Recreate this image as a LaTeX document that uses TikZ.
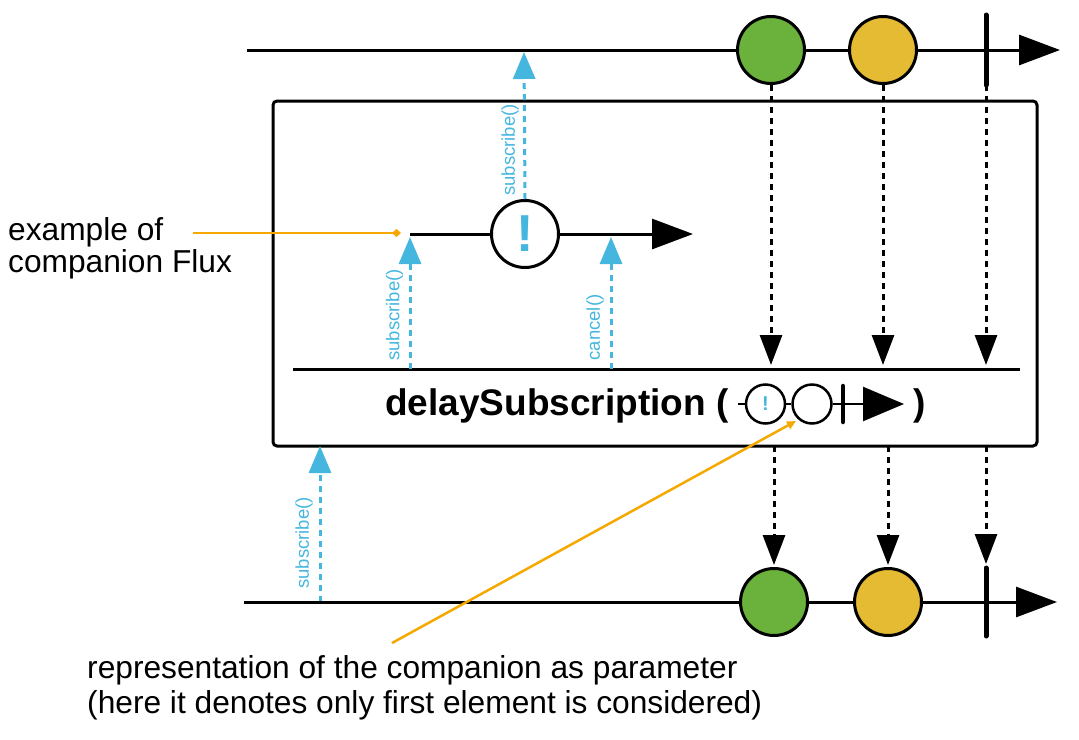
\documentclass[tikz,border=0pt]{standalone}
\usepackage{fontspec}
\setmainfont{Liberation Sans}
\usetikzlibrary{arrows.meta}
\definecolor{rxgreen}{RGB}{106,178,60}
\definecolor{rxyellow}{RGB}{229,187,51}
\definecolor{rxblue}{RGB}{69,183,222}
\definecolor{rxorange}{RGB}{245,168,0}
\tikzset{
  timeline/.style={line width=3pt},
  bigtip/.style={-{Triangle[length=41pt,width=30pt]}},
  marble/.style={circle, draw, line width=3pt, minimum size=67pt, inner sep=0pt},
  minimarble/.style={circle, draw, line width=2.5pt, minimum size=39pt, inner sep=0pt},
  bar/.style={line width=5pt, line cap=round},
  bluecall/.style={draw=rxblue, line width=3pt, dash pattern=on 6pt off 5pt, -{Triangle[length=27pt,width=22pt,fill=rxblue]}},
  calllabel/.style={text=rxblue, rotate=90, inner sep=0pt, font=\fontsize{18.5}{18.5}\selectfont},
  passdown/.style={line width=3pt, dash pattern=on 6pt off 5pt, -{Triangle[length=30pt,width=22pt]}},
  note/.style={anchor=base west, inner sep=0pt, font=\fontsize{31.7}{35}\selectfont},
  pointer/.style={draw=rxorange, line width=2.5pt},
}
\begin{document}
\begin{tikzpicture}[x=1pt,y=-1pt]
\useasboundingbox (0,0) rectangle (1079,739);

% ---------- top source timeline ----------
\coordinate (t0) at (247,50);
\coordinate (t1) at (1060,50);
\draw[timeline, bigtip] (t0) -- (t1);
\node[marble, fill=rxgreen] (tg) at (771,50) {};
\node[marble, fill=rxyellow] (ty) at (883,50) {};
\coordinate (tbTop) at (986,15);
\coordinate (tbBot) at (986,85);
\draw[bar] (tbTop) -- (tbBot);

% ---------- operator box ----------
\node[draw, line width=3pt, rounded corners=4pt, minimum width=764pt, minimum height=345pt, inner sep=0pt] (box) at (655,273.5) {};
\coordinate (opl0) at (293,369);
\coordinate (opl1) at (1020,369);
\draw[timeline] (opl0) -- (opl1);

% ---------- companion flux inside box ----------
\coordinate (c0) at (410,234);
\coordinate (c1) at (693,234);
\node[marble, fill=white] (ex) at (525,234) {\textcolor{rxblue}{\bfseries\fontsize{52}{52}\selectfont !}};
\draw[timeline] (c0) -- (ex.west);
\draw[timeline, bigtip] (ex.east) -- (c1);

% ---------- blue subscription calls ----------
\coordinate (s1tip) at (524,52);
\draw[bluecall] (ex.north) -- (s1tip);
\node[calllabel] (s1lbl) at (510,150) {subscribe()};

\coordinate (s2base) at (410,369);
\coordinate (s2tip) at (410,237);
\draw[bluecall] (s2base) -- (s2tip);
\node[calllabel] (s2lbl) at (394.5,315) {subscribe()};

\coordinate (cbase) at (611,369);
\coordinate (ctip) at (611,237);
\draw[bluecall] (cbase) -- (ctip);
\node[calllabel] (clbl) at (595,327.5) {cancel()};

\coordinate (s3base) at (320,602);
\coordinate (s3tip) at (320,446);
\draw[bluecall] (s3base) -- (s3tip);
\node[calllabel] (s3lbl) at (304,543) {subscribe()};

% ---------- operator label ----------
\node[anchor=base west, inner sep=0pt, font=\bfseries\fontsize{37}{37}\selectfont] (op) at (385,415) {delaySubscription (};
\node[anchor=base west, inner sep=0pt, font=\bfseries\fontsize{37}{37}\selectfont] (opclose) at (913,415) {)};
\coordinate (m0) at (738,404);
\coordinate (mtip) at (904,404);
\node[minimarble, fill=white] (m1) at (765.5,404) {\textcolor{rxblue}{\bfseries\fontsize{20}{20}\selectfont !}};
\node[minimarble, fill=white] (m2) at (812,404) {};
\draw[line width=2.5pt] (m0) -- (m1.west);
\draw[line width=2.5pt] (m1.east) -- (m2.west);
\draw[line width=2.5pt, -{Triangle[length=41pt,width=34pt]}] (m2.east) -- (mtip);
\coordinate (mbTop) at (843,386);
\coordinate (mbBot) at (843,422);
\draw[line width=4.5pt, line cap=round] (mbTop) -- (mbBot);

% ---------- bottom result timeline ----------
\coordinate (b0) at (244,602);
\coordinate (b1) at (1057,602);
\draw[timeline, bigtip] (b0) -- (b1);
\node[marble, fill=rxgreen] (bg) at (774,602) {};
\node[marble, fill=rxyellow] (by) at (888,602) {};
\coordinate (bbTop) at (986,568);
\coordinate (bbBot) at (986,636);
\draw[bar] (bbTop) -- (bbBot);

% ---------- passing arrows ----------
\coordinate (p1) at (771,365);
\coordinate (p2) at (883,365);
\coordinate (p3) at (986,365);
\draw[passdown] (tg.south) -- (p1);
\draw[passdown] (ty.south) -- (p2);
\draw[passdown] (tbBot) -- (p3);

\coordinate (q1) at (774,446);
\coordinate (q2) at (888,446);
\coordinate (q3) at (986,446);
\coordinate (q3tip) at (986,564);
\draw[passdown, shorten >=2pt] (q1) -- (bg.north);
\draw[passdown, shorten >=2pt] (q2) -- (by.north);
\draw[passdown] (q3) -- (q3tip);

% ---------- annotations ----------
\node[note, font=\fontsize{31.7}{32}\selectfont] (ex1) at (8,240) {example of};
\node[note, font=\fontsize{31.7}{32}\selectfont] (ex2) at (8,272) {companion Flux};
\coordinate (or0) at (193,233);
\coordinate (or1) at (401,233);
\draw[pointer, -{Diamond[length=9pt,width=8pt]}] (or0) -- (or1);

\node[note] (rep1) at (87,678) {representation of the companion as parameter};
\node[note] (rep2) at (87,713) {(here it denotes only first element is considered)};
\coordinate (or2) at (392,643);
\coordinate (or3) at (796,421);
\draw[pointer, -{Triangle[length=9pt,width=8pt]}] (or2) -- (or3);
\end{tikzpicture}
\end{document}
